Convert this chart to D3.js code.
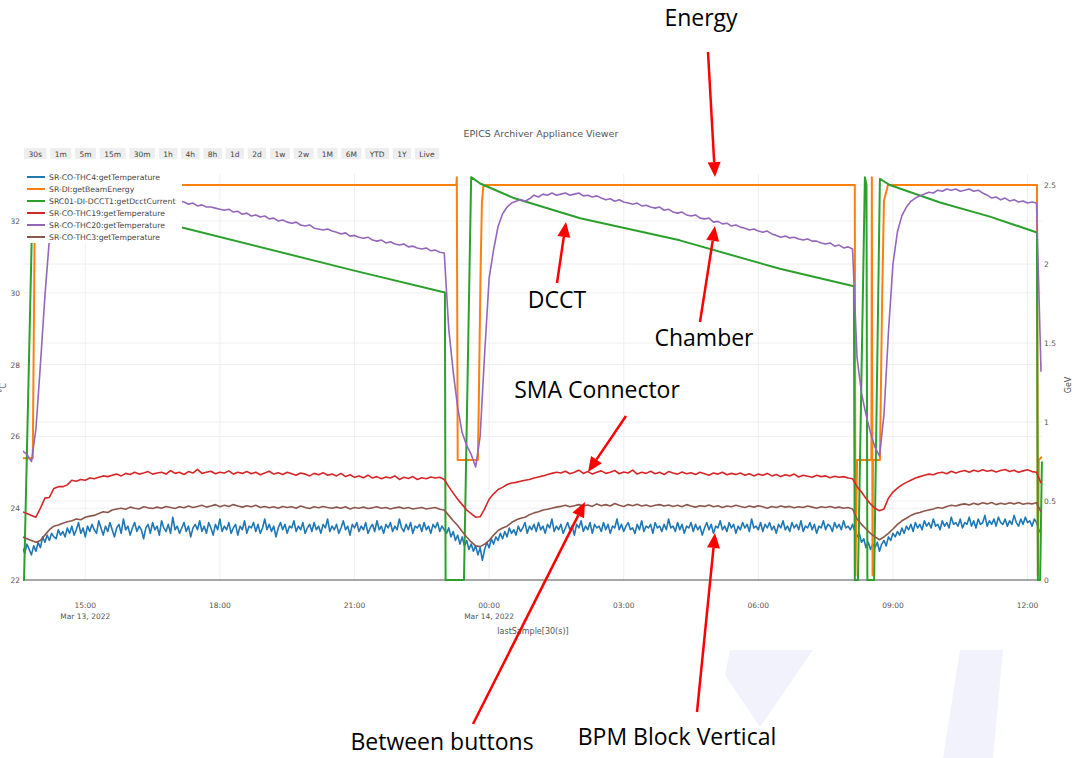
<!DOCTYPE html>
<html>
<head>
<meta charset="utf-8">
<script src="https://cdn.jsdelivr.net/npm/d3@7/dist/d3.min.js"></script>
<style>
  body { margin: 0; background: #fff; }
  svg text { font-family: "DejaVu Sans", Verdana, sans-serif; }
  .note { font-family: "Open Sans", "Noto Sans", sans-serif; font-size: 23px; fill: #000; }
</style>
</head>
<body>
<script>
// ---- data (hours counted from Mar 13 2022 00:00) ----
var rangeButtons = ["30s", "1m", "5m", "15m", "30m", "1h", "4h", "8h", "1d", "2d", "1w", "2w", "1M", "6M", "YTD", "1Y", "Live"]

var xTickHours = [15, 18, 21, 24, 27, 30, 33, 36]
var xTickLabels = ["15:00", "18:00", "21:00", "00:00", "03:00", "06:00", "09:00", "12:00"]
var xTickDates = ["Mar 13, 2022", "", "", "Mar 14, 2022", "", "", "", ""]
var leftTicks = [22, 24, 26, 28, 30, 32]
var rightTicks = [0, 0.5, 1, 1.5, 2, 2.5]

// temperatures start at 13:36; THC4 read every 3 minutes, the others every 6 minutes
var sampleStart = 13.6
var thc4Step = 0.05, tempStep = 0.1

var thc4 = [
  22.9, 22.75, 23.0, 22.85, 22.7, 22.95, 22.8, 23.05, 22.9, 23.2,
  23.05, 23.25, 23.1, 23.3, 23.2, 23.15, 23.4, 23.25, 23.35, 23.2,
  23.45, 23.3, 23.5, 23.25, 23.4, 23.6, 23.3, 23.45, 23.2, 23.5,
  23.35, 23.55, 23.4, 23.3, 23.65, 23.45, 23.25, 23.5, 23.35, 23.6,
  23.4, 23.2, 23.45, 23.55, 23.3, 23.7, 23.4, 23.5, 23.25, 23.45,
  23.6, 23.35, 23.5, 23.4, 23.15, 23.45, 23.55, 23.3, 23.6, 23.4,
  23.5, 23.25, 23.65, 23.45, 23.35, 23.55, 23.3, 23.75, 23.4, 23.5,
  23.3, 23.45, 23.6, 23.35, 23.5, 23.2, 23.45, 23.55, 23.4, 23.65,
  23.35, 23.5, 23.3, 23.6, 23.45, 23.25, 23.55, 23.4, 23.7, 23.35,
  23.5, 23.4, 23.6, 23.3, 23.45, 23.55, 23.25, 23.5, 23.4, 23.65,
  23.3, 23.5, 23.45, 23.6, 23.35, 23.55, 23.3, 23.45, 23.7, 23.4,
  23.55, 23.35, 23.5, 23.2, 23.45, 23.6, 23.4, 23.55, 23.3, 23.5,
  23.45, 23.65, 23.35, 23.5, 23.4, 23.6, 23.3, 23.45, 23.55, 23.35,
  23.6, 23.4, 23.5, 23.3, 23.55, 23.45, 23.7, 23.35, 23.5, 23.4,
  23.55, 23.3, 23.45, 23.65, 23.4, 23.5, 23.25, 23.55, 23.45, 23.6,
  23.35, 23.5, 23.4, 23.6, 23.3, 23.45, 23.55, 23.35, 23.65, 23.4,
  23.5, 23.3, 23.55, 23.45, 23.6, 23.35, 23.5, 23.4, 23.7, 23.45,
  23.35, 23.55, 23.4, 23.6, 23.3, 23.5, 23.45, 23.55, 23.35, 23.6,
  23.4, 23.5, 23.3, 23.55, 23.45, 23.6, 23.35, 23.5, 23.4, 23.3,
  23.45, 23.2, 23.35, 23.1, 23.25, 23.0, 23.2, 22.95, 23.1, 22.85,
  23.0, 22.8, 22.95, 22.7, 22.9, 22.55, 22.85, 23.05, 22.9, 23.15,
  23.0, 23.2, 23.1, 23.3, 23.15, 23.35, 23.2, 23.45, 23.3, 23.4,
  23.25, 23.5, 23.35, 23.45, 23.6, 23.3, 23.5, 23.4, 23.55, 23.35,
  23.6, 23.4, 23.5, 23.3, 23.55, 23.45, 23.7, 23.35, 23.5, 23.4,
  23.55, 23.3, 23.45, 23.6, 23.4, 23.5, 23.25, 23.55, 23.45, 23.65,
  23.35, 23.5, 23.4, 23.6, 23.3, 23.55, 23.45, 23.5, 23.35, 23.6,
  23.4, 23.55, 23.3, 23.5, 23.45, 23.7, 23.4, 23.55, 23.35, 23.5,
  23.6, 23.4, 23.45, 23.3, 23.55, 23.4, 23.65, 23.35, 23.5, 23.45,
  23.55, 23.3, 23.6, 23.45, 23.5, 23.35, 23.55, 23.4, 23.7, 23.45,
  23.5, 23.35, 23.6, 23.4, 23.55, 23.3, 23.5, 23.45, 23.6, 23.35,
  23.55, 23.4, 23.5, 23.25, 23.45, 23.6, 23.4, 23.55, 23.3, 23.5,
  23.45, 23.65, 23.4, 23.5, 23.35, 23.6, 23.45, 23.55, 23.3, 23.5,
  23.4, 23.6, 23.45, 23.55, 23.35, 23.7, 23.45, 23.5, 23.4, 23.6,
  23.35, 23.55, 23.45, 23.6, 23.4, 23.5, 23.3, 23.55, 23.45, 23.65,
  23.4, 23.5, 23.35, 23.6, 23.45, 23.55, 23.4, 23.65, 23.35, 23.5,
  23.45, 23.6, 23.4, 23.55, 23.3, 23.5, 23.45, 23.65, 23.4, 23.55,
  23.5, 23.35, 23.6, 23.45, 23.55, 23.4, 23.65, 23.45, 23.5, 23.4,
  23.55, 23.35, 23.2, 23.3, 23.05, 23.15, 22.9, 23.05, 22.85, 23.0,
  22.9, 23.05, 22.8, 23.0, 23.1, 22.95, 23.2, 23.1, 23.3, 23.2,
  23.35, 23.25, 23.45, 23.3, 23.5, 23.4, 23.55, 23.35, 23.6, 23.45,
  23.55, 23.4, 23.65, 23.5, 23.6, 23.45, 23.7, 23.5, 23.55, 23.4,
  23.65, 23.5, 23.6, 23.45, 23.75, 23.55, 23.6, 23.5, 23.7, 23.45,
  23.6, 23.55, 23.75, 23.5, 23.65, 23.45, 23.7, 23.55, 23.6, 23.8,
  23.5, 23.65, 23.55, 23.7, 23.5, 23.75, 23.6, 23.55, 23.7, 23.5,
  23.65, 23.55, 23.8, 23.6, 23.5, 23.7, 23.55, 23.75, 23.6, 23.65,
  23.5, 23.7, 23.6, 23.4, 23.3]

var thc19 = [
  23.9, 23.85, 23.8, 23.75, 24.0, 24.28, 24.3, 24.55, 24.6, 24.6,
  24.65, 24.78, 24.75, 24.8, 24.78, 24.84, 24.82, 24.86, 24.9, 24.88,
  24.92, 24.95, 24.9, 24.97, 24.94, 25.0, 24.95, 24.98, 25.02, 24.95,
  24.98, 25.0, 24.95, 25.05, 24.97, 25.0, 24.94, 25.02, 24.98, 25.08,
  24.97, 25.0, 25.03, 24.96, 25.0, 24.98, 25.04, 24.95, 25.0, 24.97,
  25.02, 24.96, 25.0, 24.93, 24.98, 25.03, 24.95, 24.99, 24.94, 25.0,
  24.96, 24.92, 24.98, 24.95, 24.9, 24.97, 24.93, 24.99, 24.92, 24.95,
  24.9, 24.97, 24.88, 24.93, 24.86, 24.9, 24.85, 24.92, 24.84, 24.88,
  24.82, 24.87, 24.84, 24.9, 24.8, 24.86, 24.83, 24.88, 24.8, 24.85,
  24.82, 24.87, 24.84, 24.86, 24.8, 24.6, 24.42, 24.25, 24.1, 23.95,
  23.85, 23.75, 23.76, 23.98, 24.25, 24.4, 24.52, 24.58, 24.66, 24.7,
  24.72, 24.75, 24.78, 24.8, 24.84, 24.87, 24.9, 24.94, 24.97, 25.0,
  24.98, 25.03, 24.96, 25.0, 25.06, 24.97, 25.02, 24.95, 25.0, 25.04,
  24.97, 25.0, 25.05, 24.96, 25.01, 24.98, 25.06, 24.95, 25.0, 24.97,
  25.03, 24.96, 25.0, 24.94, 25.02, 24.98, 24.95, 25.01, 24.96, 24.99,
  24.94, 25.0, 24.96, 24.92, 24.98, 24.95, 25.0, 24.93, 24.97, 24.94,
  24.98, 24.92, 24.96, 24.9, 24.95, 24.92, 24.97, 24.9, 24.94, 24.88,
  24.93, 24.9, 24.95, 24.87, 24.92, 24.89, 24.86, 24.92, 24.88, 24.9,
  24.85, 24.89, 24.86, 24.88, 24.84, 24.82, 24.6, 24.45, 24.27, 24.12,
  24.0, 23.93, 23.98, 24.28, 24.45, 24.56, 24.65, 24.72, 24.78, 24.84,
  24.88, 24.92, 24.95, 24.93, 24.98, 25.0, 24.96, 25.03, 24.98, 25.02,
  25.05, 25.0, 25.06, 25.02, 25.07, 25.03, 25.06, 25.01, 25.05, 25.08,
  25.02, 25.06, 25.0, 25.04, 25.07, 25.02, 25.0, 24.7]

var thc20 = [
  25.6, 25.5, 25.3, 26.2, 28.0, 29.9, 31.5, 32.2, 32.5, 32.6,
  32.65, 32.7, 32.7, 32.68, 32.72, 32.7, 32.7, 32.74, 32.7, 32.72,
  32.7, 32.72, 32.68, 32.7, 32.66, 32.68, 32.64, 32.66, 32.62, 32.64,
  32.6, 32.62, 32.58, 32.6, 32.56, 32.55, 32.53, 32.47, 32.5, 32.42,
  32.45, 32.39, 32.39, 32.36, 32.33, 32.3, 32.33, 32.25, 32.27, 32.19,
  32.22, 32.14, 32.17, 32.11, 32.14, 32.06, 32.08, 32.0, 32.03, 31.97,
  31.94, 31.97, 31.89, 31.86, 31.89, 31.8, 31.78, 31.75, 31.78, 31.72,
  31.69, 31.64, 31.67, 31.58, 31.6, 31.55, 31.52, 31.55, 31.47, 31.44,
  31.47, 31.39, 31.42, 31.36, 31.33, 31.36, 31.28, 31.3, 31.25, 31.22,
  31.25, 31.17, 31.19, 31.13, 31.11, 29.0, 27.8, 26.8, 26.1, 25.75,
  25.5, 25.15, 26.0, 28.3, 30.4, 31.2, 31.85, 32.2, 32.39, 32.5,
  32.55, 32.6, 32.55, 32.62, 32.72, 32.67, 32.75, 32.72, 32.78, 32.72,
  32.75, 32.78, 32.72, 32.75, 32.78, 32.7, 32.72, 32.67, 32.7, 32.64,
  32.59, 32.62, 32.55, 32.59, 32.53, 32.5, 32.47, 32.5, 32.42, 32.44,
  32.39, 32.36, 32.39, 32.3, 32.33, 32.25, 32.22, 32.25, 32.17, 32.14,
  32.17, 32.08, 32.06, 32.08, 31.97, 31.99, 31.92, 31.94, 31.86, 31.89,
  31.83, 31.8, 31.75, 31.78, 31.72, 31.69, 31.72, 31.64, 31.6, 31.55,
  31.58, 31.53, 31.55, 31.5, 31.47, 31.5, 31.44, 31.44, 31.39, 31.36,
  31.39, 31.3, 31.33, 31.25, 31.28, 31.22, 28.2, 27.2, 26.6, 26.1,
  25.7, 25.45, 26.6, 28.9, 30.8, 31.7, 32.15, 32.39, 32.55, 32.64,
  32.7, 32.75, 32.8, 32.78, 32.86, 32.83, 32.89, 32.86, 32.89, 32.83,
  32.86, 32.89, 32.83, 32.86, 32.78, 32.72, 32.64, 32.67, 32.59, 32.64,
  32.56, 32.59, 32.53, 32.56, 32.5, 32.53, 32.5, 27.8]

var thc3 = [
  23.2, 23.15, 23.1, 23.05, 23.1, 23.25, 23.4, 23.5, 23.53, 23.58,
  23.62, 23.65, 23.7, 23.68, 23.75, 23.78, 23.8, 23.85, 23.9, 23.88,
  23.95, 23.98, 24.0, 23.97, 24.03, 24.0, 23.98, 24.04, 24.01, 23.99,
  24.03, 24.0, 24.05, 24.02, 23.99, 24.04, 24.01, 24.06, 24.02, 24.05,
  24.08, 24.03, 24.06, 24.1, 24.04, 24.08, 24.05, 24.1, 24.06, 24.03,
  24.07, 24.04, 24.08, 24.02, 24.05, 24.01, 24.04, 24.0, 24.05, 24.02,
  24.04, 24.0, 24.06, 24.02, 23.99, 24.04, 24.01, 24.05, 24.02, 24.0,
  24.03, 24.0, 24.04, 23.98, 24.02, 24.0, 24.03, 23.99, 24.01, 24.04,
  24.0, 24.02, 23.98, 24.01, 24.03, 23.99, 24.02, 23.98, 24.0, 24.02,
  23.98, 24.0, 24.02, 23.97, 23.95, 23.8, 23.65, 23.52, 23.35, 23.2,
  23.06, 22.95, 22.93, 23.0, 23.1, 23.25, 23.38, 23.45, 23.5, 23.6,
  23.67, 23.72, 23.75, 23.82, 23.87, 23.9, 23.95, 23.97, 24.0, 24.03,
  24.05, 24.08, 24.04, 24.07, 24.1, 24.06, 24.09, 24.05, 24.12, 24.07,
  24.1, 24.06, 24.13, 24.08, 24.05, 24.1, 24.07, 24.11, 24.06, 24.09,
  24.05, 24.08, 24.1, 24.06, 24.09, 24.05, 24.08, 24.04, 24.1, 24.06,
  24.03, 24.07, 24.05, 24.09, 24.04, 24.07, 24.02, 24.06, 24.04, 24.08,
  24.05, 24.02, 24.06, 24.03, 24.07, 24.04, 24.0, 24.05, 24.02, 24.06,
  24.03, 24.05, 24.01, 24.04, 24.02, 24.06, 24.03, 24.0, 24.04, 24.02,
  24.05, 24.01, 24.03, 24.0, 24.02, 23.98, 23.7, 23.55, 23.42, 23.3,
  23.2, 23.12, 23.2, 23.3, 23.42, 23.55, 23.65, 23.72, 23.8, 23.85,
  23.88, 23.92, 23.95, 23.98, 24.02, 24.0, 24.05, 24.08, 24.06, 24.1,
  24.12, 24.09, 24.14, 24.1, 24.15, 24.12, 24.16, 24.1, 24.14, 24.11,
  24.15, 24.12, 24.16, 24.11, 24.14, 24.12, 24.15, 23.9]

// beam energy [hour, GeV]
var beamEnergy = [
  [13.61, 0.77], [13.83, 0.77], [13.88, 2.5], [23.27, 2.5], [23.28, 2.55], [23.30, 0.76],
  [23.75, 0.76], [23.77, 1.12], [23.81, 1.96], [23.84, 2.39], [23.87, 2.49], [23.93, 2.5],
  [32.15, 2.5], [32.165, 0.03], [32.20, 0.76], [32.52, 0.76], [32.53, 2.55], [32.545, 0.03],
  [32.555, 0.76], [32.71, 0.76], [32.76, 1.8], [32.80, 2.4], [32.89, 2.5], [36.21, 2.5],
  [36.23, 0.03], [36.25, 0.76], [36.32, 0.78]]

// DCCT current [hour, value on GeV axis]
var dcctCurrent = [
  [13.61, 0], [13.635, 0], [13.83, 2.46], [17.18, 2.23], [20.97, 1.96], [23.015, 1.82],
  [23.03, 0], [23.44, 0], [23.60, 2.55], [23.80, 2.51], [24.53, 2.42], [26.03, 2.29],
  [28.25, 2.15], [30.48, 1.97], [32.13, 1.86], [32.15, 0], [32.22, 0], [32.375, 2.55],
  [32.41, 2.5], [32.43, 0], [32.58, 0], [32.71, 2.54], [32.93, 2.5], [34.05, 2.39],
  [35.16, 2.3], [36.21, 2.2], [36.23, 0], [36.28, 0], [36.32, 0.75]]

var notes = [
  {text: "Energy", x: 701, y: 26, from: [708, 52], to: [715, 177]},
  {text: "DCCT", x: 557, y: 308, from: [557, 283], to: [566, 222]},
  {text: "Chamber", x: 704, y: 346, from: [700, 322], to: [715, 226]},
  {text: "SMA Connector", x: 597, y: 398, from: [626, 416], to: [588, 472]},
  {text: "Between buttons", x: 442, y: 750, from: [473, 724], to: [585, 502]},
  {text: "BPM Block Vertical", x: 677, y: 745, from: [697, 712], to: [715, 533]}
]

// ---- drawing ----
var width = 1076,
  height = 758,
  plotLeft = 23, plotRight = 1042, plotTop = 174, plotBottom = 580

var day0 = new Date(2022, 2, 13)
function toDate(h) {
  return new Date(day0.getTime() + h * 3600000)
}

function pair(vals, step) {
  return vals.map(function(v, i) { return [sampleStart + i * step, v] })
}

var svg = d3.select("body").append("svg")
  .attr("width", width)
  .attr("height", height)

// faint slide background shapes
svg.append("polygon").attr("points", "730,650 813,650 760,727 725,675").attr("fill", "#f1f2fb")
svg.append("polygon").attr("points", "960,650 1003,650 993,758 943,758").attr("fill", "#f1f2fb")

var x = d3.scaleTime()
  .domain([toDate(13.612), toDate(36.322)])
  .range([plotLeft, plotRight])
var yL = d3.scaleLinear().domain([22, 33.31]).range([plotBottom, plotTop])
var yR = d3.scaleLinear().domain([0, 2.57]).range([plotBottom, plotTop])

// title
svg.append("text")
  .attr("x", 541).attr("y", 137)
  .attr("text-anchor", "middle")
  .attr("font-size", 9.5)
  .attr("fill", "#555")
  .text("EPICS Archiver Appliance Viewer")

// range selector buttons
var bx = 24
rangeButtons.forEach(function(b) {
  var g = svg.append("g")
  var t = g.append("text")
    .attr("y", 156.5)
    .attr("font-size", 7.5)
    .attr("fill", "#444")
    .attr("text-anchor", "middle")
    .text(b)
  var w = t.node().getComputedTextLength() + 9
  g.insert("rect", "text")
    .attr("x", bx).attr("y", 148)
    .attr("width", w).attr("height", 11)
    .attr("fill", "#eeeeee")
  t.attr("x", bx + w / 2)
  bx += w + 3.7
})

// grid
var grid = svg.append("g").attr("stroke", "#efefef").attr("stroke-width", 1)
grid.selectAll(".gx").data(xTickHours).enter().append("line")
  .attr("x1", function(d) { return x(toDate(d)) })
  .attr("x2", function(d) { return x(toDate(d)) })
  .attr("y1", plotTop).attr("y2", plotBottom)
grid.selectAll(".gl").data(leftTicks.slice(1)).enter().append("line")
  .attr("x1", plotLeft).attr("x2", plotRight)
  .attr("y1", function(d) { return yL(d) }).attr("y2", function(d) { return yL(d) })
grid.selectAll(".gr").data(rightTicks.slice(1)).enter().append("line")
  .attr("x1", plotLeft).attr("x2", plotRight)
  .attr("y1", function(d) { return yR(d) }).attr("y2", function(d) { return yR(d) })

// bottom line
svg.append("line")
  .attr("x1", plotLeft).attr("x2", plotRight - 2)
  .attr("y1", plotBottom).attr("y2", plotBottom)
  .attr("stroke", "#8a8a8a").attr("stroke-width", 1.6)

// axes labels
svg.selectAll(".yl").data(leftTicks).enter().append("text")
  .attr("x", 20).attr("y", function(d) { return yL(d) + 3 })
  .attr("text-anchor", "end")
  .attr("font-size", 7.5).attr("fill", "#555")
  .text(function(d) { return d })
svg.selectAll(".yr").data(rightTicks).enter().append("text")
  .attr("x", 1044).attr("y", function(d) { return yR(d) + 3 })
  .attr("font-size", 7.5).attr("fill", "#555")
  .text(function(d) { return d })
var xt = svg.selectAll(".xt").data(xTickHours).enter().append("text")
  .attr("x", function(d) { return x(toDate(d)) })
  .attr("y", 608)
  .attr("text-anchor", "middle")
  .attr("font-size", 7.5).attr("fill", "#555")
xt.append("tspan").text(function(d, i) { return xTickLabels[i] })
xt.append("tspan")
  .attr("x", function(d) { return x(toDate(d)) })
  .attr("dy", 11)
  .text(function(d, i) { return xTickDates[i] })

svg.append("text")
  .attr("x", 533).attr("y", 634)
  .attr("text-anchor", "middle")
  .attr("font-size", 8).attr("fill", "#555")
  .text("lastSample[30(s)]")
svg.append("text")
  .attr("transform", "translate(1071,385) rotate(-90)")
  .attr("text-anchor", "middle")
  .attr("font-size", 8).attr("fill", "#555")
  .text("GeV")
svg.append("text")
  .attr("transform", "translate(6,388) rotate(-90)")
  .attr("text-anchor", "middle")
  .attr("font-size", 8).attr("fill", "#555")
  .text("°C")

// traces
svg.append("clipPath").attr("id", "plotclip")
  .append("rect")
  .attr("x", plotLeft).attr("y", plotTop - 4)
  .attr("width", plotRight - plotLeft + 2).attr("height", plotBottom - plotTop + 6)

var series = [
  {name: "SR-CO-THC4:getTemperature", color: "#1f77b4", y: yL, pts: pair(thc4, thc4Step), w: 1.6},
  {name: "SR-DI:getBeamEnergy", color: "#ff7f0e", y: yR, pts: beamEnergy, w: 2},
  {name: "SRC01-DI-DCCT1:getDcctCurrent", color: "#2ca02c", y: yR, pts: dcctCurrent, w: 2},
  {name: "SR-CO-THC19:getTemperature", color: "#d62728", y: yL, pts: pair(thc19, tempStep), w: 1.6},
  {name: "SR-CO-THC20:getTemperature", color: "#9467bd", y: yL, pts: pair(thc20, tempStep), w: 1.6},
  {name: "SR-CO-THC3:getTemperature", color: "#8c564b", y: yL, pts: pair(thc3, tempStep), w: 1.6}
]

var traces = svg.append("g").attr("clip-path", "url(#plotclip)")
series.forEach(function(s) {
  var line = d3.line()
    .x(function(d) { return x(toDate(d[0])) })
    .y(function(d) { return s.y(d[1]) })
  traces.append("path")
    .attr("d", line(s.pts))
    .attr("fill", "none")
    .attr("stroke", s.color)
    .attr("stroke-width", s.w)
    .attr("stroke-linejoin", "round")
})

// legend, on an opaque box over the traces
var legend = svg.append("g")
legend.append("rect")
  .attr("x", 24).attr("y", 170)
  .attr("width", 158).attr("height", 73)
  .attr("fill", "#fff")
series.forEach(function(s, i) {
  var ly = 177 + i * 12
  legend.append("line")
    .attr("x1", 27).attr("x2", 45)
    .attr("y1", ly).attr("y2", ly)
    .attr("stroke", s.color).attr("stroke-width", 2)
  legend.append("text")
    .attr("x", 49).attr("y", ly + 2.8)
    .attr("font-size", 7.7).attr("fill", "#444")
    .text(s.name)
})

// annotations
notes.forEach(function(n) {
  var dx = n.to[0] - n.from[0], dy = n.to[1] - n.from[1]
  var len = Math.sqrt(dx * dx + dy * dy), ux = dx / len, uy = dy / len
  var hl = 15, hw = 6.5
  var bxp = n.to[0] - ux * hl, byp = n.to[1] - uy * hl
  svg.append("line")
    .attr("x1", n.from[0]).attr("y1", n.from[1])
    .attr("x2", bxp).attr("y2", byp)
    .attr("stroke", "#ff0000").attr("stroke-width", 2.5)
  svg.append("polygon")
    .attr("points", [
      [n.to[0], n.to[1]],
      [bxp - uy * hw, byp + ux * hw],
      [bxp + uy * hw, byp - ux * hw]
    ].join(" "))
    .attr("fill", "#ff0000")
  svg.append("text")
    .attr("class", "note")
    .attr("x", n.x).attr("y", n.y)
    .attr("text-anchor", "middle")
    .text(n.text)
})
</script>
</body>
</html>
